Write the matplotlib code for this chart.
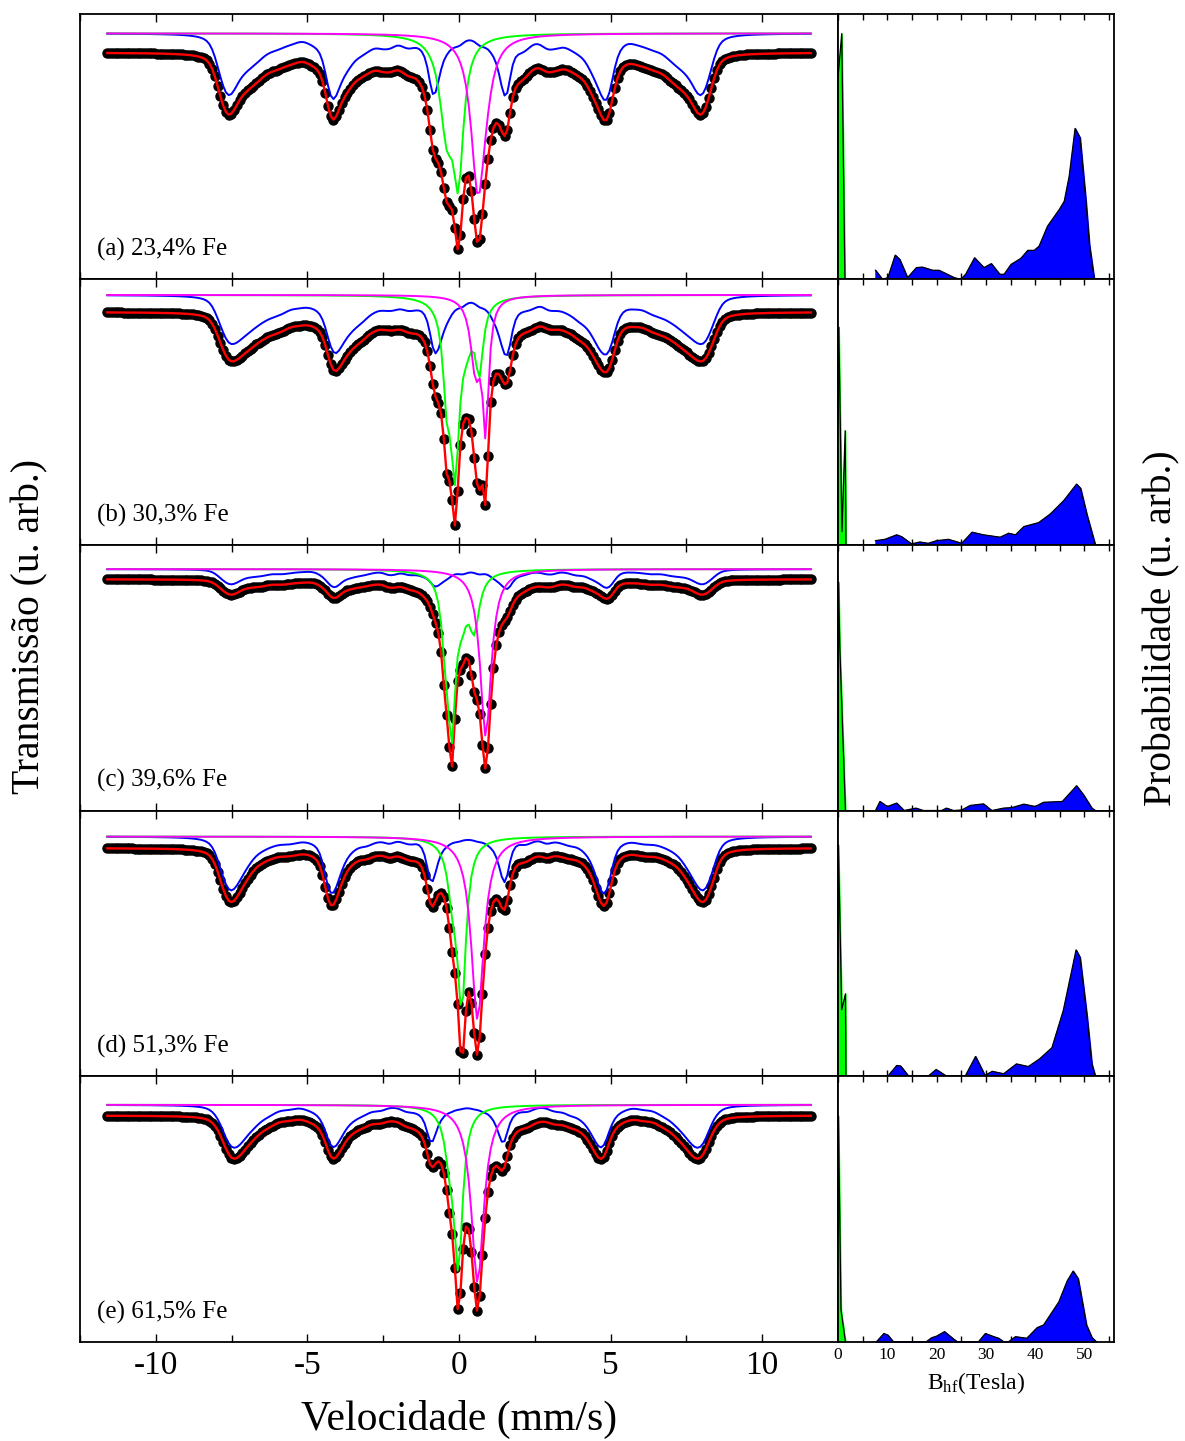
import matplotlib.pyplot as plt
import numpy as np
from matplotlib.ticker import MultipleLocator

plt.rcParams["font.family"] = ["Liberation Serif", "DejaVu Serif"]
plt.rcParams["axes.unicode_minus"] = False
plt.rcParams["mathtext.fontset"] = "custom"
plt.rcParams["mathtext.rm"] = "Liberation Serif"

samples = ["(a) 23,4% Fe", "(b) 30,3% Fe", "(c) 39,6% Fe", "(d) 51,3% Fe", "(e) 61,5% Fe"]

# hyperfine field distributions P(Bhf), field in tesla
bhf_a = [7.6, 9.0, 10.1, 11.6, 12.5, 14.1, 15.9, 17.1, 19.2, 20.5, 23.6, 24.9, 25.9, 27.7,
         29.6, 31.1, 32.8, 33.7, 35.1, 37.1, 38.5, 39.8, 40.8, 42.5, 44.9, 45.9, 46.9,
         48.1, 49.1, 50.3, 51.0, 52.0]
prob_a = [0.034, 0.0, 0.006, 0.091, 0.075, 0.006, 0.044, 0.046, 0.034, 0.034, 0.006, 0.0,
          0.019, 0.081, 0.044, 0.059, 0.019, 0.019, 0.056, 0.079, 0.109, 0.109, 0.125,
          0.200, 0.263, 0.294, 0.388, 0.568, 0.533, 0.294, 0.131, 0.0]
bhf_b = [7.6, 9.5, 11.9, 12.9, 14.9, 16.6, 18.3, 20.0, 22.4, 25.1, 27.2, 29.5, 32.9, 34.6,
         36.0, 37.7, 40.7, 43.1, 45.8, 48.4, 49.2, 50.5, 52.2]
prob_b = [0.016, 0.021, 0.038, 0.031, 0.004, 0.011, 0.006, 0.016, 0.021, 0.006, 0.048,
          0.038, 0.029, 0.044, 0.038, 0.069, 0.084, 0.117, 0.167, 0.229, 0.213, 0.113, 0.0]
bhf_c = [7.6, 8.5, 10.0, 11.9, 13.4, 15.8, 17.3, 21.0, 22.0, 23.4, 25.1, 26.8, 29.5, 31.2,
         33.6, 35.3, 37.7, 40.0, 41.7, 45.5, 48.4, 49.8, 51.5, 52.2]
prob_c = [0.0, 0.034, 0.015, 0.028, 0.0, 0.009, 0.0, 0.0, 0.009, 0.0, 0.002, 0.019, 0.025,
          0.0, 0.009, 0.011, 0.024, 0.015, 0.031, 0.034, 0.093, 0.059, 0.009, 0.0]
bhf_d = [10.1, 11.9, 12.7, 14.3, 18.3, 19.9, 22.0, 25.8, 27.9, 29.8, 31.3, 33.6, 36.2, 38.6,
         40.9, 43.4, 45.7, 48.3, 49.1, 50.5, 51.5, 52.2]
prob_d = [0.0, 0.040, 0.038, 0.0, 0.0, 0.025, 0.0, 0.0, 0.074, 0.003, 0.018, 0.009, 0.046,
          0.036, 0.065, 0.107, 0.247, 0.475, 0.447, 0.228, 0.046, 0.0]
bhf_e = [7.8, 9.3, 10.1, 11.2, 17.9, 19.0, 20.0, 21.6, 23.5, 24.2, 28.5, 29.9, 31.6, 32.6,
         33.6, 34.6, 36.0, 38.3, 40.4, 41.7, 44.8, 46.5, 47.7, 48.7, 50.4, 51.5, 52.4]
prob_e = [0.0, 0.031, 0.025, 0.0, 0.0, 0.015, 0.021, 0.038, 0.009, 0.0, 0.0, 0.031, 0.019,
          0.013, 0.0, 0.0, 0.019, 0.013, 0.053, 0.063, 0.150, 0.229, 0.266, 0.238, 0.063,
          0.016, 0.0]

# low field (paramagnetic) part of the distributions
blow_a = [0.0, 0.75, 1.4]
plow_a = [0.76, 0.925, 0.0]
blow_b = [0.0, 0.15, 0.8, 1.45, 1.6]
plow_b = [0.45, 0.82, 0.05, 0.43, 0.0]
blow_c = [0.0, 0.1, 0.35, 1.5]
plow_c = [0.3, 0.86, 0.62, 0.0]
blow_d = [0.0, 0.07, 0.75, 1.5, 1.6]
plow_d = [0.4, 0.87, 0.25, 0.31, 0.0]
blow_e = [0.0, 0.07, 0.6, 1.5]
plow_e = [0.4, 0.85, 0.12, 0.0]

# paramagnetic sub-spectra: (centre mm/s, depth, half width mm/s)
green_lines = [
    [(-0.40, 0.34, 0.28), (-0.02, 0.48, 0.20)],
    [(-0.40, 0.30, 0.15), (-0.13, 0.60, 0.17), (0.25, 0.12, 0.25), (0.67, 0.25, 0.15)],
    [(-0.45, 0.20, 0.15), (-0.24, 0.55, 0.15), (0.10, 0.12, 0.20), (0.50, 0.20, 0.20)],
    [(-0.20, 0.18, 0.20), (0.09, 0.60, 0.17)],
    [(-0.30, 0.15, 0.20), (-0.02, 0.58, 0.17)],
]
magenta_lines = [
    [(0.62, 0.55, 0.27), (0.85, 0.10, 0.30)],
    [(0.55, 0.27, 0.20), (0.88, 0.47, 0.12)],
    [(0.88, 0.63, 0.22)],
    [(0.61, 0.69, 0.25)],
    [(0.61, 0.67, 0.25)],
]

# magnetic sextet parameters
iso_shift = [0.27, 0.32, 0.32, 0.28, 0.25]
quad_shift = [-0.08, -0.07, -0.07, -0.02, -0.02]
sextet_depth = [0.25, 0.226, 0.075, 0.215, 0.162]
total_offset = [0.072, 0.064, 0.038, 0.043, 0.040]
top_gap = [0.074, 0.059, 0.091, 0.098, 0.108]

bhf = [bhf_a, bhf_b, bhf_c, bhf_d, bhf_e]
prob = [prob_a, prob_b, prob_c, prob_d, prob_e]
blow = [blow_a, blow_b, blow_c, blow_d, blow_e]
plow = [plow_a, plow_b, plow_c, plow_d, plow_e]

velocity = np.linspace(-11.6, 11.6, 256)


def line_shape(v, centre, hwhm, eta=1.0):
    x = (v - centre) / hwhm
    return eta / (1 + x**2) + (1 - eta) * np.exp(-np.log(2) * x**2)


def doublet(v, lines):
    out = np.zeros_like(v)
    for centre, depth, hwhm in lines:
        out += depth * line_shape(v, centre, hwhm)
    return out


def sextet_dist(v, fields, probs, shift, quad, depth, hwhm=0.17):
    # sum of sextets over the field distribution, integrated on a 0.2 T step
    coef = np.array([-0.16097, -0.09321, -0.02545, 0.02545, 0.09321, 0.16097])
    eps = quad * np.array([1, -1, -1, -1, -1, 1])
    ratio = np.array([3, 2, 1, 1, 2, 3])
    step = np.arange(fields[0], fields[-1], 0.2)
    weight = np.interp(step, fields, probs)
    centres = shift + eps[None, :] + coef[None, :] * step[:, None]
    shape = line_shape(v[:, None, None], centres[None], hwhm, eta=0.8)
    out = (shape * (weight[:, None] * ratio[None, :])[None]).sum(axis=(1, 2))
    return depth * out / out.max()


fig = plt.figure(figsize=(11.85, 14.41), dpi=100)
row_h = 0.18432

for i in range(5):
    bottom = 0.0689 + (4 - i) * row_h
    ax = fig.add_axes([0.0675, bottom, 0.6397, row_h])
    axp = fig.add_axes([0.7072, bottom, 0.2329, row_h])

    blue = sextet_dist(velocity, bhf[i], prob[i], iso_shift[i], quad_shift[i], sextet_depth[i])
    green = doublet(velocity, green_lines[i])
    magenta = doublet(velocity, magenta_lines[i])
    total = 1 - total_offset[i] - (blue + green + magenta)

    ax.plot(velocity, total, "o", color="black", markersize=6.5, zorder=2)
    ax.plot(velocity, total, color="red", lw=1.7, zorder=3)
    ax.plot(velocity, 1 - blue, color="blue", lw=1.4, zorder=4)
    ax.plot(velocity, 1 - green, color="#00ff00", lw=1.4, zorder=4)
    ax.plot(velocity, 1 - magenta, color="magenta", lw=1.4, zorder=5)

    ax.set_xlim(-12.5, 12.5)
    ax.set_ylim(top_gap[i], 1 + top_gap[i])
    ax.set_yticks([])
    ax.xaxis.set_major_locator(MultipleLocator(5))
    ax.xaxis.set_minor_locator(MultipleLocator(2.5))
    ax.tick_params(axis="x", which="both", direction="in", top=True, width=1)
    ax.tick_params(axis="x", which="major", length=6, labelsize=24, pad=6)
    ax.tick_params(axis="x", which="minor", length=5)
    ax.text(0.022, 0.112, samples[i], transform=ax.transAxes, fontsize=18, va="center")

    axp.fill_between(bhf[i], prob[i], color="blue", zorder=2)
    axp.plot(bhf[i], prob[i], color="black", lw=0.9, zorder=3)
    axp.fill_between(blow[i], plow[i], color="#00ff00", zorder=2)
    axp.plot(blow[i], plow[i], color="black", lw=0.9, zorder=3)
    axp.set_xlim(0, 56)
    axp.set_ylim(0, 1)
    axp.set_yticks([])
    axp.xaxis.set_major_locator(MultipleLocator(10))
    axp.xaxis.set_minor_locator(MultipleLocator(5))
    axp.tick_params(axis="x", which="both", direction="in", top=True, width=1, length=4)
    axp.tick_params(axis="x", which="major", labelsize=12.5, pad=4)

    for a in (ax, axp):
        for s in a.spines.values():
            s.set_linewidth(1.3)
        if i < 4:
            a.tick_params(axis="x", labelbottom=False)

fig.text(0.0253, 0.565, "Transmissão (u. arb.)", rotation=90, fontsize=28.5,
         ha="center", va="center")
fig.text(0.9806, 0.564, "Probabilidade (u. arb.)", rotation=90, fontsize=28.5,
         ha="center", va="center")
fig.text(0.3873, 0.0146, "Velocidade (mm/s)", fontsize=30, ha="center", va="center")
fig.text(0.824, 0.0402, r"$\mathregular{B_{hf}}$(Tesla)", fontsize=17,
         ha="center", va="center")

fig.savefig("out.png", dpi=100)
